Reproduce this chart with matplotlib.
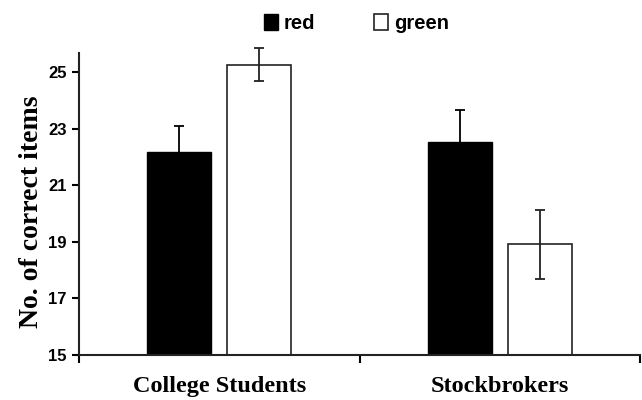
import matplotlib
matplotlib.use('Agg')
import matplotlib.pyplot as plt
from matplotlib.patches import Patch
import numpy as np

groups = ['College Students', 'Stockbrokers']
series = ['red', 'green']
red_vals = [22.18, 22.52]
red_err = [0.90, 1.15]
green_vals = [25.26, 18.91]
green_err = [0.59, 1.22]
yticks = [15, 17, 19, 21, 23, 25]

fig = plt.figure(figsize=(6.42, 4.0), dpi=100)
ax = fig.add_axes([0.123, 0.1125, 0.874, 0.755])

x = np.arange(len(groups))
w = 0.229
off = 0.143
base = 15
ax.bar(x - off, np.array(red_vals) - base, w, bottom=base, color='black',
       edgecolor='black', linewidth=1.0, zorder=2)
ax.bar(x + off, np.array(green_vals) - base, w, bottom=base, color='white',
       edgecolor='#222222', linewidth=1.2, zorder=2)
eb1 = ax.errorbar(x - off, red_vals, yerr=red_err, fmt='none', ecolor='black',
                  elinewidth=1.3, capsize=3.5, capthick=1.3, zorder=3)
eb2 = ax.errorbar(x + off, green_vals, yerr=green_err, fmt='none', ecolor='#222222',
                  elinewidth=1.3, capsize=3.5, capthick=1.3, zorder=3)
# let the top error bar stick out above the axis end, like in the original
for eb in (eb1, eb2):
    for part in eb.lines:
        if part is None:
            continue
        for art in (part if isinstance(part, tuple) else [part]):
            art.set_clip_on(False)

ax.set_xlim(-0.5, 1.5)
ax.set_ylim(15, 25.67)
ax.set_yticks(yticks)
ax.set_yticklabels([str(t) for t in yticks], fontfamily='Liberation Sans',
                   fontweight='bold', fontsize=12)
ax.set_xticks([-0.5, 0.5, 1.5])
ax.set_xticklabels([])
ax.set_xticks(x, minor=True)
ax.set_xticklabels(groups, minor=True, fontfamily='Liberation Serif',
                   fontweight='bold', fontsize=17.5)
ax.tick_params(axis='x', which='minor', length=0, pad=15)
ax.tick_params(axis='x', which='major', length=6, width=1.5, direction='out')
ax.tick_params(axis='y', length=5, width=1.5, direction='out', pad=4)

for s in ['top', 'right']:
    ax.spines[s].set_visible(False)
for s in ['left', 'bottom']:
    ax.spines[s].set_linewidth(1.5)
    ax.spines[s].set_color('#222222')

ax.set_ylabel('No. of correct items', fontfamily='Liberation Serif',
              fontweight='bold', fontsize=20)
ax.yaxis.set_label_coords(-0.062, 0.475)

handles = [Patch(facecolor='black', edgecolor='black'),
           Patch(facecolor='white', edgecolor='#222222', linewidth=1.2)]
fig.legend(handles, series, loc='upper center', bbox_to_anchor=(0.555, 1.01),
           ncol=2, frameon=False, handlelength=0.7, handleheight=0.8,
           handletextpad=0.3, columnspacing=2.9,
           prop={'family': 'Liberation Sans', 'weight': 'bold', 'size': 14.5})

fig.savefig('out.png', dpi=100)
